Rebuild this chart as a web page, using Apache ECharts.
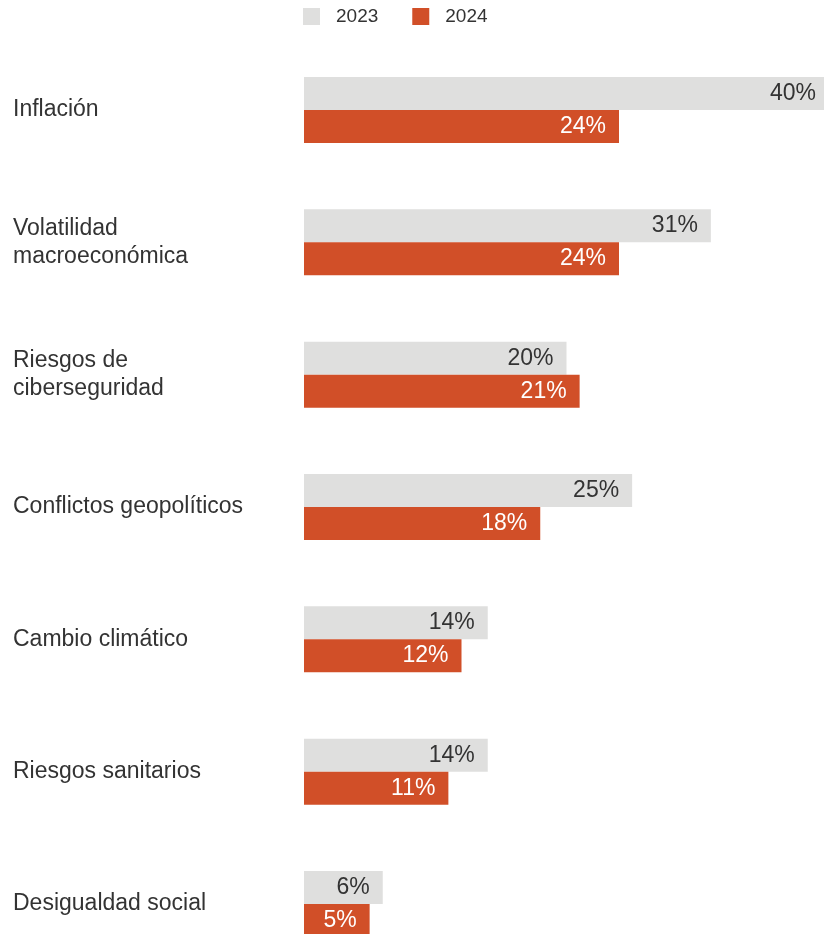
<!DOCTYPE html>
<html>
<head>
<meta charset="utf-8">
<style>
  html, body { margin: 0; padding: 0; background: #ffffff; overflow: hidden; }
  /* The canvas is a little larger than the page: the longest bar and the
     last group run off the right and bottom edges */
  #chart { width: 840px; height: 980px; }
</style>
<script src="https://cdn.jsdelivr.net/npm/echarts@6/dist/echarts.min.js"></script>
</head>
<body>
<div id="chart"></div>
<script>
// Risk categories, top to bottom
const categories = [
  'Inflación',
  'Volatilidad\nmacroeconómica',
  'Riesgos de\nciberseguridad',
  'Conflictos geopolíticos',
  'Cambio climático',
  'Riesgos sanitarios',
  'Desigualdad social'
];

// Share of respondents (%) per year
const values2023 = [40, 31, 20, 25, 14, 14, 6];
const values2024 = [24, 24, 21, 18, 12, 11, 5];

const seriesNames = ['2023', '2024'];
const colors = ['#dfdfde', '#d14f28'];

const FONT = '"Liberation Sans", Arial, Helvetica, sans-serif';

const chart = echarts.init(document.getElementById('chart'), null, { renderer: 'canvas' });

chart.setOption({
  animation: false,
  backgroundColor: '#ffffff',
  legend: {
    left: 298,
    top: 2,
    itemWidth: 17,
    itemHeight: 17,
    itemGap: 34,
    icon: 'rect',
    textStyle: {
      fontFamily: FONT,
      fontSize: 19,
      color: '#333333',
      padding: [0, 0, 0, 11]
    },
    data: seriesNames
  },
  grid: {
    left: 304,
    top: 43.8,
    width: 525,
    height: 926.4,
    containLabel: false
  },
  xAxis: {
    type: 'value',
    min: 0,
    max: 40,
    show: false
  },
  yAxis: {
    type: 'category',
    inverse: true,
    data: categories,
    axisLine: { show: false },
    axisTick: { show: false },
    splitLine: { show: false },
    axisLabel: {
      align: 'left',
      margin: 291,
      fontFamily: FONT,
      fontSize: 23,
      lineHeight: 28,
      color: '#333333',
      padding: [0, 0, 6, 0]
    }
  },
  series: [
    {
      name: seriesNames[0],
      type: 'bar',
      data: values2023,
      barWidth: 33,
      barGap: '0%',
      itemStyle: { color: colors[0] },
      label: {
        show: true,
        position: 'insideRight',
        distance: 13,
        formatter: '{c}%',
        fontFamily: FONT,
        fontSize: 23,
        color: '#333333'
      }
    },
    {
      name: seriesNames[1],
      type: 'bar',
      data: values2024,
      barWidth: 33,
      barGap: '0%',
      itemStyle: { color: colors[1] },
      label: {
        show: true,
        position: 'insideRight',
        distance: 13,
        formatter: '{c}%',
        fontFamily: FONT,
        fontSize: 23,
        color: '#ffffff'
      }
    }
  ]
});
</script>
</body>
</html>
